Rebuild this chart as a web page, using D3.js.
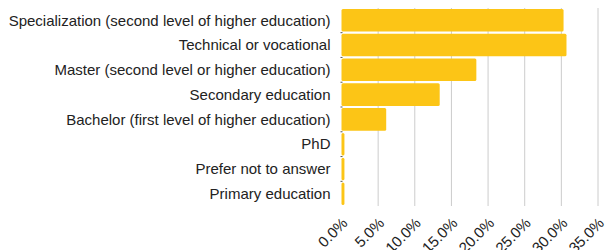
<!DOCTYPE html>
<html>
<head>
<meta charset="utf-8">
<script src="https://cdn.jsdelivr.net/npm/d3@7"></script>
<style>
  body { margin: 0; background: #fff; }
  text { font-family: "Liberation Sans", Arial, sans-serif; fill: #222; }
</style>
</head>
<body>
<div id="chart-area"></div>
<script>
// education levels, top to bottom
const categories = [
    "Specialization (second level of higher education)",
    "Technical or vocational",
    "Master (second level or higher education)",
    "Secondary education",
    "Bachelor (first level of higher education)",
    "PhD",
    "Prefer not to answer",
    "Primary education"
];
// share of respondents, %
const values = [30.3, 30.7, 18.4, 13.4, 6.1, 0.4, 0.4, 0.4];
const tickValues = [0, 5, 10, 15, 20, 25, 30, 35];

const width = 606, height = 250;
const margin = { top: 8, right: 8, bottom: 44, left: 341.5 };

const svg = d3.select("#chart-area").append("svg")
    .attr("width", width)
    .attr("height", height);

const x = d3.scaleLinear()
    .domain([0, 35])
    .range([margin.left, width - margin.right]);

const y = d3.scaleBand()
    .domain(categories)
    .range([margin.top, height - margin.bottom])
    .paddingInner(0.09)
    .paddingOuter(0.04);

// vertical grid
svg.append("g")
    .selectAll("line")
    .data(tickValues.slice(1))
    .enter()
    .append("line")
    .attr("x1", d => x(d))
    .attr("x2", d => x(d))
    .attr("y1", margin.top)
    .attr("y2", height - margin.bottom)
    .attr("stroke", "#cccccc")
    .attr("stroke-width", 1);

// small ticks between bands on the category axis
const bounds = categories.slice(0, -1).map(c => y(c) + y.bandwidth() + y.step() * y.paddingInner() / 2);
svg.append("g")
    .selectAll("line")
    .data(bounds)
    .enter()
    .append("line")
    .attr("x1", x(0) - 1)
    .attr("x2", x(0) + 1)
    .attr("y1", d => d)
    .attr("y2", d => d)
    .attr("stroke", "#555")
    .attr("stroke-width", 1);

svg.append("g")
    .selectAll("rect")
    .data(values)
    .enter()
    .append("rect")
    .attr("x", x(0))
    .attr("y", (d, i) => y(categories[i]))
    .attr("width", d => x(d) - x(0))
    .attr("height", y.bandwidth())
    .attr("rx", 1.5)
    .attr("fill", "#fcc516");

// category labels
svg.append("g")
    .selectAll("text")
    .data(categories)
    .enter()
    .append("text")
    .attr("x", margin.left - 11)
    .attr("y", d => y(d) + y.bandwidth() / 2)
    .attr("dy", "0.35em")
    .attr("text-anchor", "end")
    .attr("font-size", 15)
    .text(d => d);

// rotated percent labels
svg.append("g")
    .selectAll("text")
    .data(tickValues)
    .enter()
    .append("text")
    .attr("transform", d => `translate(${x(d) + 7},${height - margin.bottom + 18}) rotate(-45)`)
    .attr("text-anchor", "end")
    .attr("font-size", 15)
    .text(d => d.toFixed(1) + "%");
</script>
</body>
</html>
